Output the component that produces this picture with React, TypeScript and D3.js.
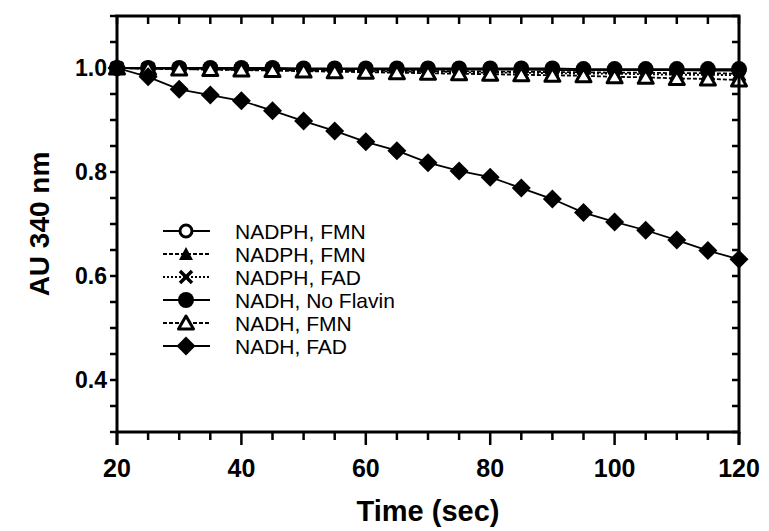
import React from "react";
import { scaleLinear, line, range } from "d3";

// chart values
const time = [20, 25, 30, 35, 40, 45, 50, 55, 60, 65, 70, 75, 80, 85, 90, 95, 100, 105, 110, 115, 120];

const nadphFmnCircle = [1.0, 0.999, 0.999, 0.999, 0.998, 0.998, 0.998, 0.998, 0.998, 0.997, 0.997, 0.997, 0.997, 0.997, 0.996, 0.996, 0.996, 0.996, 0.996, 0.995, 0.995];
const nadphFmnTriangle = [1.0, 0.999, 0.998, 0.998, 0.997, 0.997, 0.996, 0.996, 0.995, 0.995, 0.994, 0.994, 0.993, 0.993, 0.992, 0.992, 0.991, 0.991, 0.990, 0.990, 0.989];
const nadphFad = [1.0, 0.999, 0.998, 0.997, 0.997, 0.996, 0.995, 0.995, 0.994, 0.993, 0.993, 0.992, 0.991, 0.991, 0.990, 0.989, 0.989, 0.988, 0.987, 0.987, 0.986];
const nadhNoFlavin = [1.0, 1.0, 1.0, 1.0, 1.0, 1.0, 0.999, 0.999, 0.999, 0.999, 0.999, 0.999, 0.999, 0.999, 0.999, 0.998, 0.998, 0.998, 0.998, 0.998, 0.998];
const nadhFmn = [1.0, 0.999, 0.998, 0.997, 0.996, 0.995, 0.994, 0.993, 0.992, 0.991, 0.990, 0.989, 0.988, 0.987, 0.986, 0.985, 0.983, 0.982, 0.980, 0.979, 0.977];
const nadhFad = [1.0, 0.983, 0.959, 0.948, 0.937, 0.918, 0.898, 0.879, 0.858, 0.841, 0.818, 0.802, 0.790, 0.769, 0.748, 0.722, 0.704, 0.688, 0.669, 0.649, 0.632];

const xTicks = [20, 40, 60, 80, 100, 120];
const yTicks = [0.4, 0.6, 0.8, 1.0];

const series = [
  { name: "NADPH, FMN", values: nadphFmnCircle, marker: "circleOpen", dash: "" },
  { name: "NADPH, FMN", values: nadphFmnTriangle, marker: "triangleFilled", dash: "4,2" },
  { name: "NADPH, FAD", values: nadphFad, marker: "cross", dash: "2,2" },
  { name: "NADH, No Flavin", values: nadhNoFlavin, marker: "circleFilled", dash: "" },
  { name: "NADH, FMN", values: nadhFmn, marker: "triangleOpen", dash: "4,2" },
  { name: "NADH, FAD", values: nadhFad, marker: "diamond", dash: "" },
];

const W = 769, H = 531;
const left = 117, right = 739, top = 16, bottom = 432;

const x = scaleLinear().domain([20, 120]).range([left, right]);
const y = scaleLinear().domain([0.3, 1.1]).range([bottom, top]);

function Marker({ type, cx, cy }: { type: string; cx: number; cy: number }) {
  switch (type) {
    case "circleOpen":
      return <circle cx={cx} cy={cy} r={6} fill="#fff" stroke="#000" strokeWidth={3} />;
    case "circleFilled":
      return <circle cx={cx} cy={cy} r={8} fill="#000" />;
    case "triangleFilled":
      return <path d={`M${cx},${cy - 7}L${cx + 7},${cy + 6}L${cx - 7},${cy + 6}Z`} fill="#000" />;
    case "triangleOpen":
      return (
        <path d={`M${cx},${cy - 7}L${cx + 7.5},${cy + 6}L${cx - 7.5},${cy + 6}Z`} fill="#fff" stroke="#000" strokeWidth={3} strokeLinejoin="round" />
      );
    case "cross":
      return <path d={`M${cx - 6},${cy - 6}L${cx + 6},${cy + 6}M${cx + 6},${cy - 6}L${cx - 6},${cy + 6}`} stroke="#000" strokeWidth={3.5} />;
    case "diamond":
      return <path d={`M${cx},${cy - 9.5}L${cx + 9.5},${cy}L${cx},${cy + 9.5}L${cx - 9.5},${cy}Z`} fill="#000" />;
  }
  return null;
}

export default function App() {
  const lineGen = line<number>()
    .x((_, i) => x(time[i]))
    .y((d) => y(d));

  const xMinor = range(20, 121, 5);
  const yMinor = range(0.3, 1.1001, 0.05);
  const legendY0 = 231, legendStep = 23;

  return (
    <svg width={W} height={H} style={{ position: "absolute", left: 0, top: 0 }}>
      <rect width={W} height={H} fill="#fff" />

      {series.map((s, si) => (
        <g key={si}>
          <path d={lineGen(s.values) || ""} fill="none" stroke="#000" strokeWidth={1.8} strokeDasharray={s.dash} />
          {s.values.map((v, i) => (
            <Marker key={i} type={s.marker} cx={x(time[i])} cy={y(v)} />
          ))}
        </g>
      ))}

      {/* frame */}
      <g stroke="#000" strokeWidth={3} fill="none">
        <rect x={left} y={top} width={right - left} height={bottom - top} />
        <line x1={left} x2={left} y1={bottom} y2={bottom + 13} />
        <line x1={right} x2={right} y1={bottom} y2={bottom + 13} />
      </g>

      {/* ticks on all four sides */}
      <g stroke="#000" strokeWidth={2.5}>
        {xMinor.map((t) => (
          <g key={t}>
            <line x1={x(t)} x2={x(t)} y1={bottom} y2={bottom + (t % 20 === 0 ? 13 : 8)} />
            <line x1={x(t)} x2={x(t)} y1={top} y2={top + 8} />
          </g>
        ))}
        {yMinor.map((t, i) => (
          <g key={i}>
            <line x1={left - 7} x2={left} y1={y(t)} y2={y(t)} />
            <line x1={right - 7} x2={right} y1={y(t)} y2={y(t)} />
          </g>
        ))}
      </g>

      <g fontFamily="'Liberation Sans Narrow', 'Liberation Sans', Arial, sans-serif" fontWeight="bold" fontSize={25} textAnchor="middle">
        {xTicks.map((t) => (
          <text key={t} x={x(t)} y={477}>{t}</text>
        ))}
        <text x={(left + right) / 2} y={521} fontSize={29}>Time (sec)</text>
      </g>

      <g fontFamily="'Liberation Sans', Arial, sans-serif" fontWeight="bold" fontSize={23} textAnchor="end">
        {yTicks.map((t) => (
          <text key={t} x={107} y={y(t) + 8}>{t.toFixed(1)}</text>
        ))}
        <text transform={`translate(49,${(top + bottom) / 2}) rotate(-90)`} textAnchor="middle" fontSize={28}>AU 340 nm</text>
      </g>

      {/* legend */}
      <g fontFamily="'Liberation Sans', Arial, sans-serif" fontSize={21}>
        {series.map((s, i) => {
          const ly = legendY0 + i * legendStep;
          return (
            <g key={i}>
              <line x1={163} x2={210} y1={ly} y2={ly} stroke="#000" strokeWidth={1.8} strokeDasharray={s.dash} />
              <Marker type={s.marker} cx={186} cy={ly} />
              <text x={235} y={ly + 7.5}>{s.name}</text>
            </g>
          );
        })}
      </g>
    </svg>
  );
}
